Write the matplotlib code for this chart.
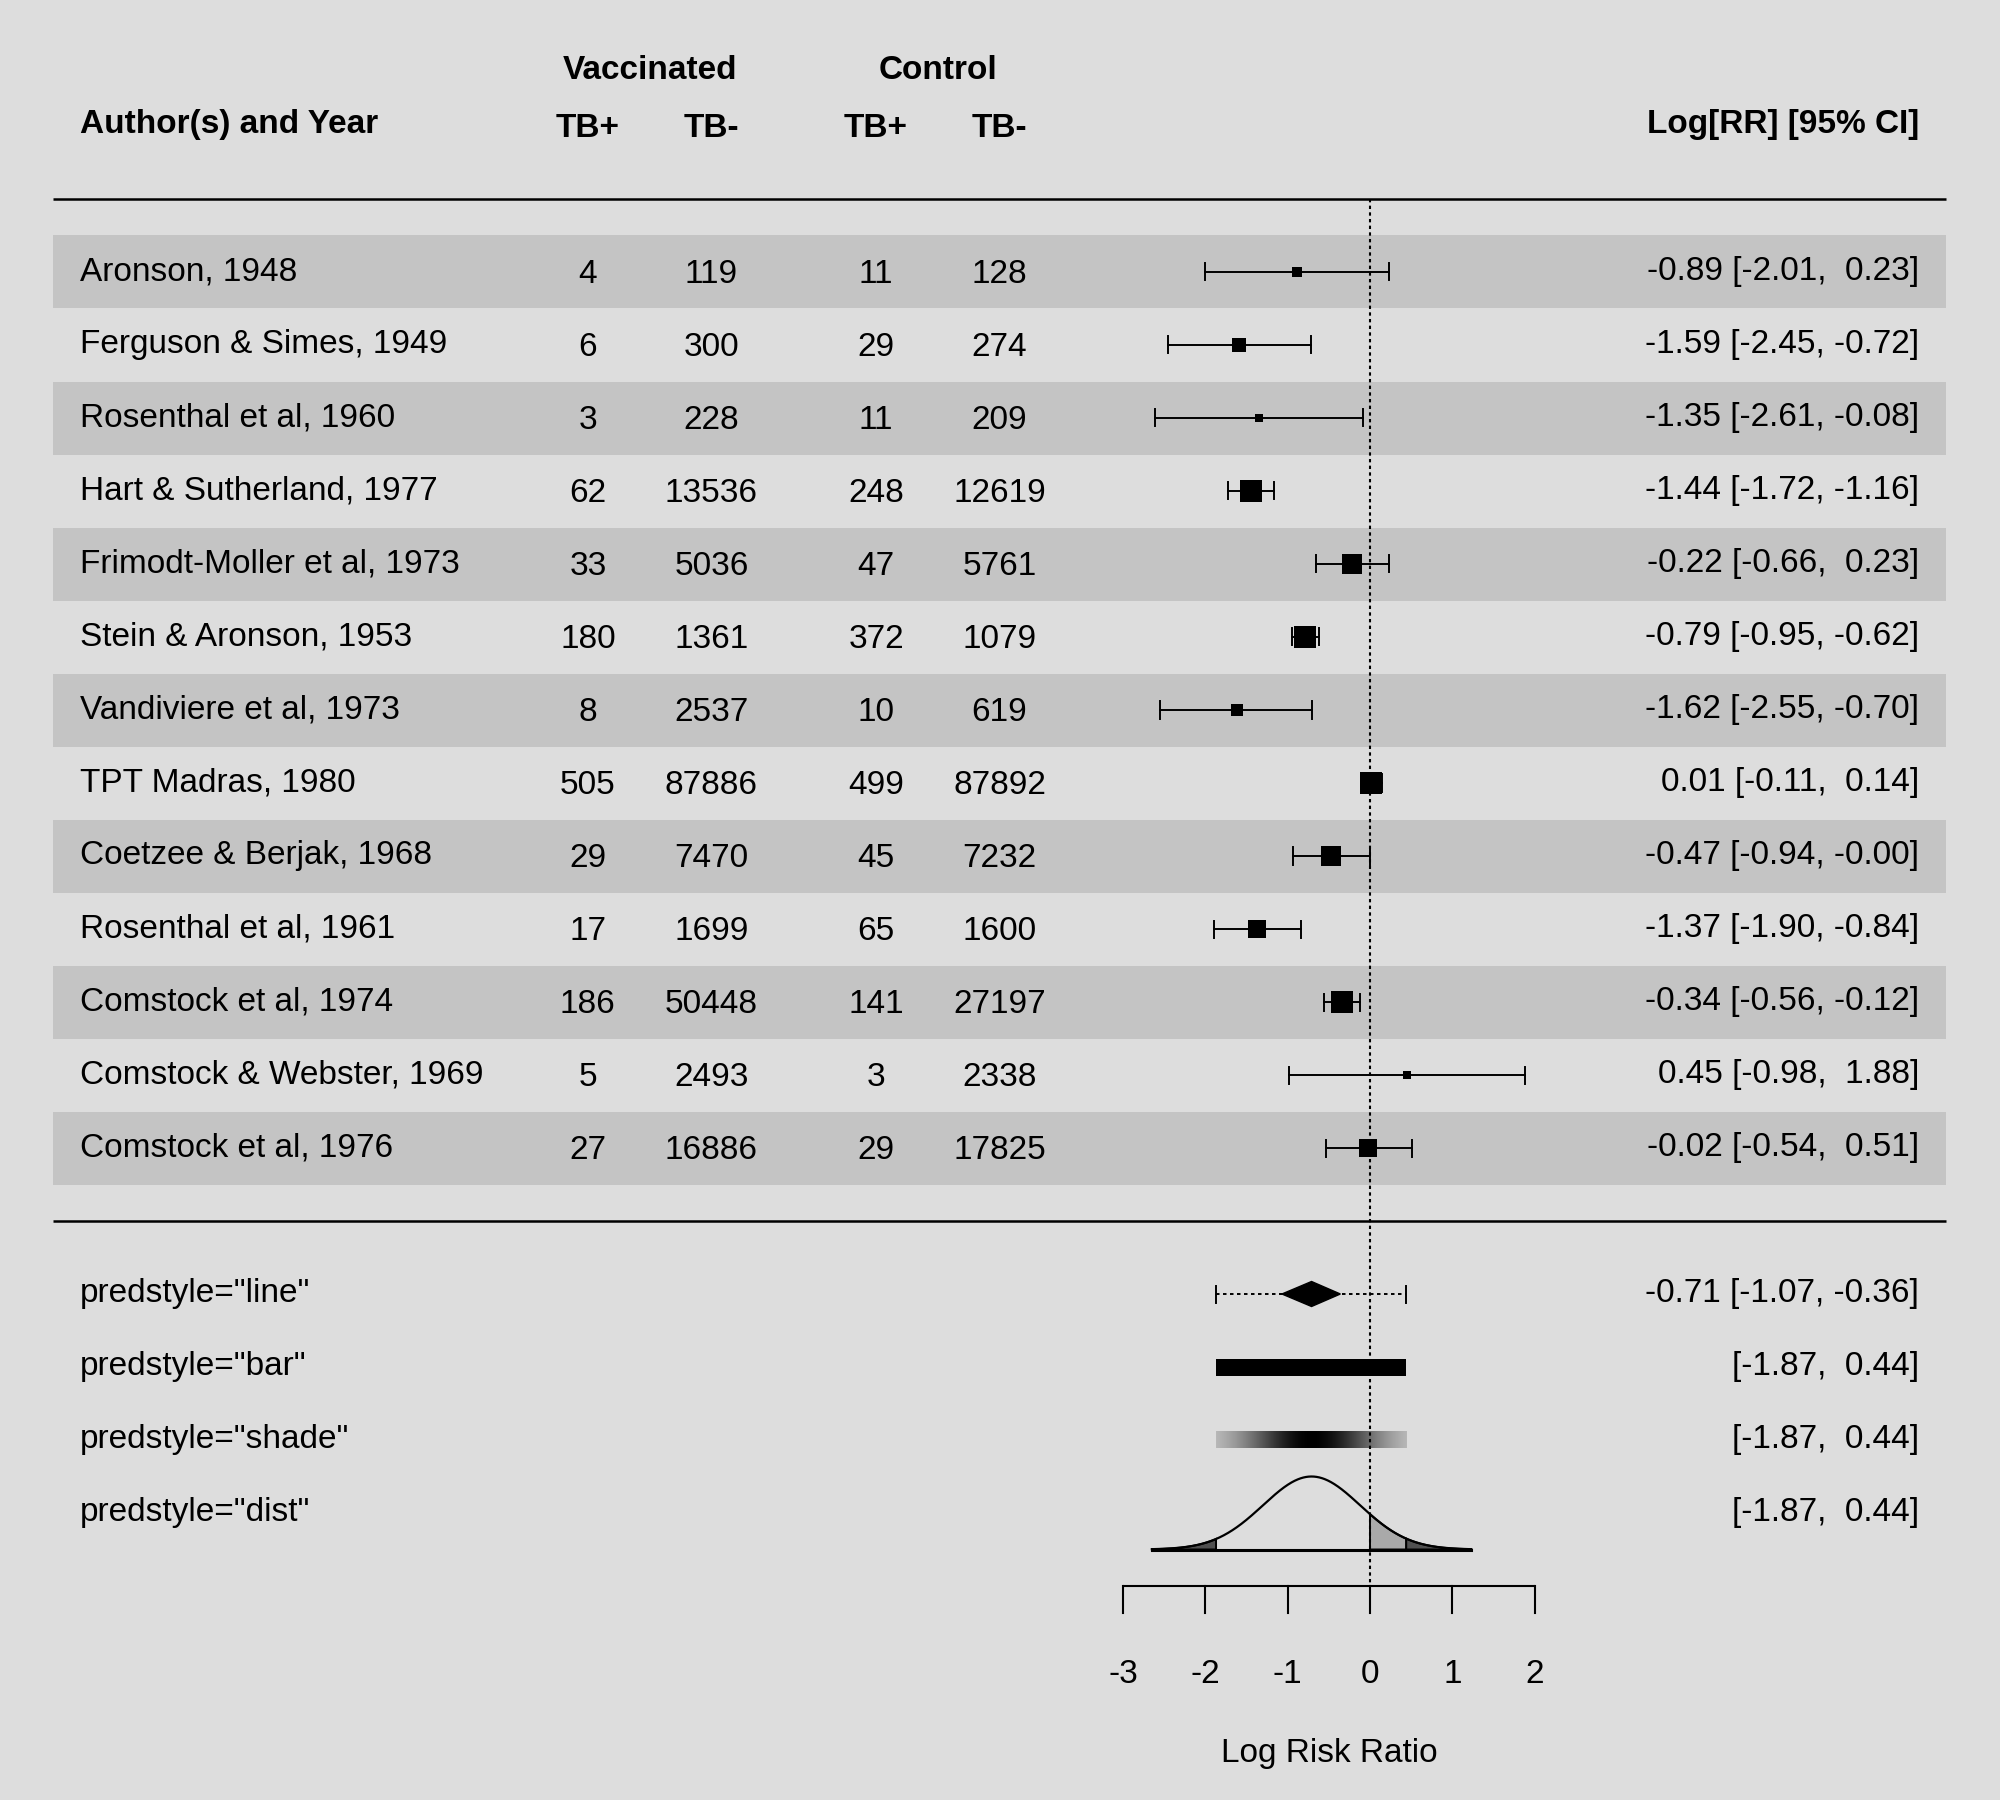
import numpy as np
import matplotlib
matplotlib.use("Agg")
import matplotlib.pyplot as plt
from matplotlib.patches import Rectangle, Polygon

# ---------------- data ----------------
authors = ["Aronson, 1948", "Ferguson & Simes, 1949", "Rosenthal et al, 1960",
           "Hart & Sutherland, 1977", "Frimodt-Moller et al, 1973", "Stein & Aronson, 1953",
           "Vandiviere et al, 1973", "TPT Madras, 1980", "Coetzee & Berjak, 1968",
           "Rosenthal et al, 1961", "Comstock et al, 1974", "Comstock & Webster, 1969",
           "Comstock et al, 1976"]
vacc_pos = [4, 6, 3, 62, 33, 180, 8, 505, 29, 17, 186, 5, 27]
vacc_neg = [119, 300, 228, 13536, 5036, 1361, 2537, 87886, 7470, 1699, 50448, 2493, 16886]
ctrl_pos = [11, 29, 11, 248, 47, 372, 10, 499, 45, 65, 141, 3, 29]
ctrl_neg = [128, 274, 209, 12619, 5761, 1079, 619, 87892, 7232, 1600, 27197, 2338, 17825]
est = [-0.89, -1.59, -1.35, -1.44, -0.22, -0.79, -1.62, 0.01, -0.47, -1.37, -0.34, 0.45, -0.02]
ci_lb = [-2.01, -2.45, -2.61, -1.72, -0.66, -0.95, -2.55, -0.11, -0.94, -1.90, -0.56, -0.98, -0.54]
ci_ub = [0.23, -0.72, -0.08, -1.16, 0.23, -0.62, -0.70, 0.14, -0.00, -0.84, -0.12, 1.88, 0.51]

pooled_est = -0.71
pooled_lb = -1.07
pooled_ub = -0.36
pi_lb = -1.87
pi_ub = 0.44

pred_labels = ['predstyle="line"', 'predstyle="bar"', 'predstyle="shade"', 'predstyle="dist"']
axis_ticks = [-3, -2, -1, 0, 1, 2]
xlabel = "Log Risk Ratio"

# ---------------- style ----------------
BG = "#DDDDDD"
BAND = "#C4C4C4"
FONT = "Liberation Sans"
FS = 24
PX_X = 82.33   # px per x unit
PX_Y = 73.0    # px per y unit

fig = plt.figure(figsize=(20, 18), dpi=100, facecolor=BG)
ax = fig.add_axes([0, 0, 1, 1])
ax.set_facecolor(BG)
ax.axis("off")

k = len(authors)
rows = np.arange(k, 0, -1)
xlim = (-16, 7)

# bands
for r in rows:
    if r % 2 == 1:
        ax.add_patch(Rectangle((xlim[0], r - 0.5), xlim[1] - xlim[0], 1.0,
                               facecolor=BAND, edgecolor="none", zorder=0))

# horizontal lines
ax.plot(xlim, [k + 1, k + 1], color="black", lw=1.8, zorder=2, solid_capstyle="butt")
ax.plot(xlim, [0, 0], color="black", lw=1.8, zorder=2, solid_capstyle="butt")

# reference line
ax.plot([0, 0], [k + 1, -5], color="black", lw=1.5, ls=(0, (1.6, 1.6)), zorder=5)

tick_h = 8.5 / PX_Y

# study weights (random-effects) from displayed CIs
z = 1.959964
se_i = (np.array(ci_ub) - np.array(ci_lb)) / (2 * z)
se_mu = (pooled_ub - pooled_lb) / (2 * z)
tau2 = ((pi_ub - pi_lb) / (2 * z)) ** 2 - se_mu ** 2
wi = 1.0 / (se_i ** 2 + tau2)
psize = 0.5 + (wi - wi.min()) / (wi.max() - wi.min())
side_px = psize * 15.1

tkw = dict(fontsize=FS, family=FONT, color="black")
for i, r in enumerate(rows):
    ax.plot([ci_lb[i], ci_ub[i]], [r, r], color="black", lw=1.4, zorder=3)
    for xe in (ci_lb[i], ci_ub[i]):
        ax.plot([xe, xe], [r - tick_h, r + tick_h], color="black", lw=1.4, zorder=3)
    ax.plot([est[i]], [r], marker="s", ms=side_px[i] * 0.72, mew=0, color="black", zorder=4)
    ax.text(-15.67, r - 0.11, authors[i], ha="left", va="baseline", **tkw)
    for xc, val in zip([-9.5, -8, -6, -4.5], [vacc_pos[i], vacc_neg[i], ctrl_pos[i], ctrl_neg[i]]):
        ax.text(xc, r - 0.15, str(val), ha="center", va="baseline", **tkw)
    ax.text(6.67, r - 0.11, f"{est[i]:.2f} [{ci_lb[i]:.2f}, {ci_ub[i]:5.2f}]",
            ha="right", va="baseline", **tkw)

# headers
hkw = dict(fontsize=FS, family=FONT, color="black", fontweight="bold")
ax.text(-15.67, 14.90, "Author(s) and Year", ha="left", va="baseline", **hkw)
ax.text(6.67, 14.90, "Log[RR] [95% CI]", ha="right", va="baseline", **hkw)
for xc, lab in zip([-9.5, -8, -6, -4.5], ["TB+", "TB-", "TB+", "TB-"]):
    ax.text(xc, 14.85, lab, ha="center", va="baseline", **hkw)
ax.text(-8.75, 15.64, "Vaccinated", ha="center", va="baseline", **hkw)
ax.text(-5.25, 15.64, "Control", ha="center", va="baseline", **hkw)

# prediction rows
pred_rows = [-1, -2, -3, -4]
for y, lab in zip(pred_rows, pred_labels):
    ax.text(-15.67, y - 0.11, lab, ha="left", va="baseline", **tkw)
ax.text(6.67, -1 - 0.11, f"{pooled_est:.2f} [{pooled_lb:.2f}, {pooled_ub:5.2f}]",
        ha="right", va="baseline", **tkw)
for y in pred_rows[1:]:
    ax.text(6.67, y - 0.11, f"[{pi_lb:.2f}, {pi_ub:5.2f}]", ha="right", va="baseline", **tkw)

# line style
y = -1
ax.plot([pi_lb, pi_ub], [y, y], color="black", lw=1.4, ls=(0, (1.8, 1.8)), zorder=3)
for xe in (pi_lb, pi_ub):
    ax.plot([xe, xe], [y - tick_h, y + tick_h], color="black", lw=1.4, zorder=3)
dh = 12.5 / PX_Y
ax.add_patch(Polygon([[pooled_lb, y], [pooled_est, y + dh], [pooled_ub, y], [pooled_est, y - dh]],
                     closed=True, facecolor="black", edgecolor="black", lw=1.0, zorder=4))

# bar style
bh = 8.5 / PX_Y
y = -2
ax.add_patch(Rectangle((pi_lb, y - bh), pi_ub - pi_lb, 2 * bh, facecolor="black",
                       edgecolor="none", zorder=3))

# shade style
y = -3
sd_pi = (pi_ub - pi_lb) / (2 * z)
xs = np.linspace(pi_lb, pi_ub, 400)
d = np.exp(-0.5 * ((xs - pooled_est) / sd_pi) ** 2)
bgv = 221 / 255.0
g = bgv * (1 - d) * 0.97
img = np.stack([g, g, g], axis=-1)[np.newaxis, :, :]
img = np.repeat(img, 2, axis=0)
ax.imshow(img, extent=[pi_lb, pi_ub, y - bh, y + bh], aspect="auto", zorder=3,
          interpolation="bilinear")

# dist style
base = -4.5
zq = 3.290527
xd = np.linspace(pooled_est - zq * sd_pi, pooled_est + zq * sd_pi, 600)
dens = np.exp(-0.5 * ((xd - pooled_est) / sd_pi) ** 2)
yd = base + dens


def fill_region(a, b, color):
    m = (xd >= a) & (xd <= b)
    xx = np.concatenate([[a], xd[m], [b]])
    yy = np.concatenate([[base + np.exp(-0.5 * ((a - pooled_est) / sd_pi) ** 2)], yd[m],
                         [base + np.exp(-0.5 * ((b - pooled_est) / sd_pi) ** 2)]])
    poly = np.column_stack([np.concatenate([xx, [b, a]]), np.concatenate([yy, [base, base]])])
    ax.add_patch(Polygon(poly, closed=True, facecolor=color, edgecolor="black", lw=1.4, zorder=3))


fill_region(xd[0], pi_lb, "#505050")
fill_region(0.0, pi_ub, "#A9A9A9")
fill_region(pi_ub, xd[-1], "#505050")
ax.plot(xd, yd, color="black", lw=1.6, zorder=4)
ax.plot([xd[0], xd[-1]], [base, base], color="black", lw=2.2, zorder=4)

# axis
ax.plot([axis_ticks[0], axis_ticks[-1]], [-5, -5], color="black", lw=1.5, zorder=3,
        solid_capstyle="butt")
for t in axis_ticks:
    ax.plot([t, t], [-5, -5 - 27 / PX_Y], color="black", lw=1.5, zorder=3)
    ax.text(t, -6.325, f"{t:g}", ha="center", va="baseline", **tkw)
ax.text(np.mean([axis_ticks[0], axis_ticks[-1]]), -7.41, xlabel, ha="center", va="baseline", **tkw)

ax.set_xlim(-1370 / PX_X, 630 / PX_X)
ax.set_ylim(14 - 1601 / PX_Y, 14 + 199 / PX_Y)

fig.savefig("out.png", dpi=100, facecolor=BG)
